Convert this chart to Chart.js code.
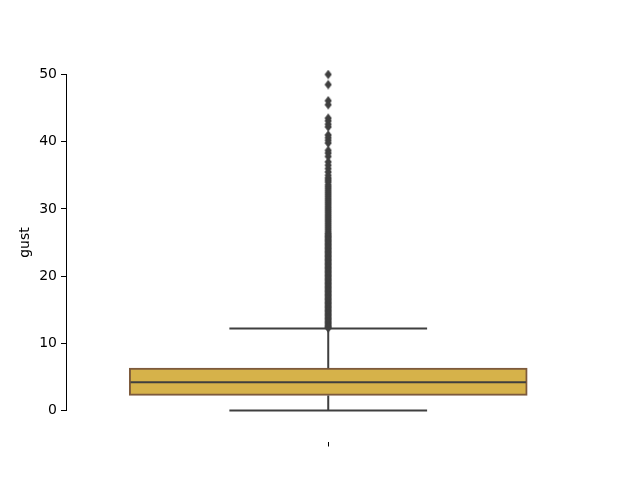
<!DOCTYPE html>
<html>
<head>
<meta charset="utf-8">
<script src="https://cdn.jsdelivr.net/npm/chart.js@4/dist/chart.umd.min.js"></script>
<style>
  html, body { margin: 0; padding: 0; background: #fff; }
  #wrap { width: 640px; height: 480px; }
</style>
</head>
<body>
<div id="wrap"><canvas id="c" width="640" height="480"></canvas></div>
<script>
// ---- data ----
const categories = [''];
const xPositions = [0];
const whiskerLow = [0.0];
const q1 = [2.25];
const median = [4.2];
const q3 = [6.3];
const whiskerHigh = [12.2];
const outliers = [
  50.0, 48.5, 46.1, 45.5, 43.5, 43.1, 42.6, 42.2, 41.0, 40.6, 40.2, 39.8,
  38.7, 38.3, 37.8, 37.0, 36.5, 36.0, 35.5, 35.0,
  34.6, 34.3, 34.0, 33.6, 33.3, 33.0, 32.7, 32.4, 32.1, 31.8, 31.5, 31.2,
  30.9, 30.6, 30.3, 30.0, 29.7, 29.4, 29.1, 28.8, 28.5, 28.2, 27.9, 27.6,
  27.3, 27.0, 26.7, 26.4, 26.2,
  26.0, 25.8, 25.6, 25.4, 25.2, 25.0, 24.8, 24.6, 24.4, 24.2, 24.0, 23.8,
  23.6, 23.4, 23.2, 23.0, 22.8, 22.6, 22.4, 22.2, 22.0, 21.8, 21.6, 21.4,
  21.2, 21.0, 20.8, 20.6, 20.4, 20.2, 20.0, 19.8, 19.6, 19.4, 19.2, 19.0,
  18.8, 18.6, 18.4, 18.2, 18.0, 17.8, 17.6, 17.4, 17.2, 17.0, 16.8, 16.6,
  16.4, 16.2, 16.0, 15.8, 15.6, 15.4, 15.2, 15.0, 14.8, 14.6, 14.4, 14.2,
  14.0, 13.8, 13.6, 13.4, 13.2, 13.0, 12.8, 12.6, 12.4, 12.3
];
const yTicks = [0, 10, 20, 30, 40, 50];
const yLabel = 'gust';

// ---- styles ----
const BOX_FILL = '#d6b24a';
const BOX_EDGE = '#7d5a3c';
const LINE_GRAY = '#3f3f3f';
const BOX_HALF = 0.4;   // box half-width in category units
const CAP_HALF = 0.2;   // cap half-width
const FONT = "'DejaVu Sans', sans-serif";

// diamond flier marker
const diamond = document.createElement('canvas');
diamond.width = 8; diamond.height = 10;
(function () {
  const g = diamond.getContext('2d');
  g.fillStyle = LINE_GRAY;
  g.beginPath();
  g.moveTo(4, 0.3); g.lineTo(7.6, 5); g.lineTo(4, 9.7); g.lineTo(0.4, 5);
  g.closePath(); g.fill();
})();

function seg(points) {
  return {
    type: 'line', data: points, borderColor: LINE_GRAY, borderWidth: 2,
    pointRadius: 0, fill: false, clip: false, order: 1, tension: 0
  };
}

const datasets = [];
xPositions.forEach((x, i) => {
  datasets.push({
    type: 'bar',
    data: [{ x: x, y: [q1[i], q3[i]] }],
    backgroundColor: BOX_FILL, borderColor: BOX_EDGE, borderWidth: 2,
    borderSkipped: false, barThickness: 398, clip: false, order: 5
  });
  datasets.push(seg([{ x: x - BOX_HALF, y: median[i] }, { x: x + BOX_HALF, y: median[i] }]));
  datasets.push(seg([{ x: x, y: q3[i] }, { x: x, y: whiskerHigh[i] }]));
  datasets.push(seg([{ x: x, y: q1[i] }, { x: x, y: whiskerLow[i] }]));
  datasets.push(seg([{ x: x - CAP_HALF, y: whiskerHigh[i] }, { x: x + CAP_HALF, y: whiskerHigh[i] }]));
  datasets.push(seg([{ x: x - CAP_HALF, y: whiskerLow[i] }, { x: x + CAP_HALF, y: whiskerLow[i] }]));
  datasets.push({
    type: 'scatter',
    data: outliers.map(v => ({ x: x, y: v })),
    pointStyle: diamond, pointRadius: 5, showLine: false, clip: false, order: 0
  });
});

new Chart(document.getElementById('c'), {
  type: 'scatter',
  data: { datasets: datasets },
  options: {
    responsive: false,
    animation: false,
    events: [],
    layout: { padding: { top: 74.5, right: 64.6, bottom: 0, left: 0 } },
    plugins: { legend: { display: false }, tooltip: { enabled: false } },
    scales: {
      x: {
        type: 'linear', min: -0.5305, max: 0.5, offset: false,
        afterFit: s => { s.height = 69.5; },
        afterBuildTicks: s => { s.ticks = xPositions.map(v => ({ value: v })); },
        border: { display: false },
        grid: {
          offset: false, drawOnChartArea: false, drawTicks: true, tickLength: 36,
          tickColor: '#000', tickWidth: 1, tickBorderDash: [0, 31, 5, 0]
        },
        ticks: { callback: (v, i) => categories[i] || '', font: { family: FONT, size: 14 }, color: '#000' }
      },
      y: {
        type: 'linear', min: 0, max: 50,
        afterFit: s => { s.width = 66; },
        afterBuildTicks: s => { s.ticks = yTicks.map(v => ({ value: v })); },
        border: { display: true, color: '#000', width: 1 },
        grid: { drawOnChartArea: false, drawTicks: true, tickLength: 5, tickColor: '#000', tickWidth: 1 },
        ticks: { padding: 4, color: '#000', font: { family: FONT, size: 14 } },
        title: { display: true, text: yLabel, color: '#000', font: { family: FONT, size: 14 }, padding: { top: 17, bottom: 0 } }
      }
    }
  }
});
</script>
</body>
</html>
